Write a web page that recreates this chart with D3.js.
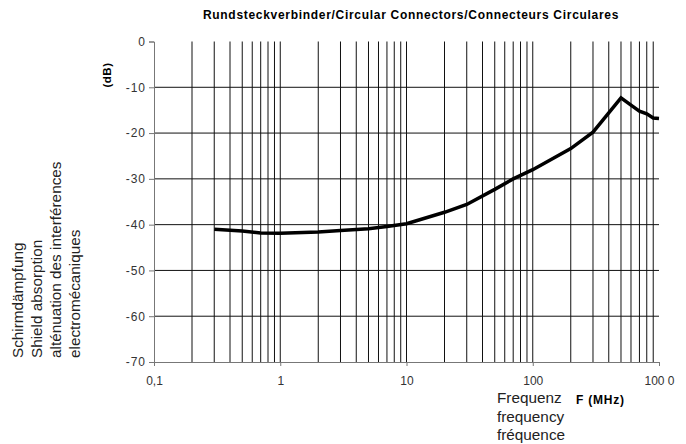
<!DOCTYPE html>
<html><head><meta charset="utf-8">
<script src="https://cdn.jsdelivr.net/npm/d3@7"></script>
<style>body{margin:0;background:#fff}svg{display:block;font-family:"Liberation Sans",Arial,sans-serif}</style>
</head><body>
<svg id="c" width="686" height="444"></svg>
<script>
const freq = [0.3,0.5,0.7,1,2,3,5,7,10,20,30,50,70,100,200,300,400,500,600,700,800,900,1000];
const atten = [-41.0,-41.4,-41.8,-41.9,-41.6,-41.3,-40.9,-40.4,-39.8,-37.3,-35.6,-32.3,-30.0,-28.0,-23.4,-19.8,-15.6,-12.3,-13.9,-15.2,-15.8,-16.7,-16.8];
const xTicks = [0.1,1,10,100,1000];
const xTickLabels = ["0,1","1","10","100","100 0"];
const yTicks = [0,-10,-20,-30,-40,-50,-60,-70];
const yTickLabels = ["0","-10","-20","-30","-40","-50","-60","-70"];
const title = "Rundsteckverbinder/Circular Connectors/Connecteurs Circulares";
const yLabelLines = ["Schirmdämpfung","Shield absorption","alténuation des interférences","electromécaniques"];
const xLabelLines = ["Frequenz","frequency","fréquence"];

const svg = d3.select("#c");
const x = d3.scaleLog().domain([0.1,1000]).range([154,659]);
const y = d3.scaleLinear().domain([-70,0]).range([362,41.5]);

// vertical grid (2..9 of each decade, plus decades 1,10,100)
const vGrid = [];
for (let d of [0.1,1,10,100]) for (let k=1;k<=9;k++){ const v=d*k; if(v>0.1+1e-9 && v<1000-1e-6) vGrid.push(v); }
svg.append("g").selectAll("line").data(vGrid).join("line")
  .attr("x1",d=>x(d)).attr("x2",d=>x(d)).attr("y1",y(0)).attr("y2",y(-70))
  .attr("stroke","#111").attr("stroke-width",1);
// horizontal grid
svg.append("g").selectAll("line").data(yTicks.filter(v=>v!==0 && v!==-70)).join("line")
  .attr("x1",x(0.1)).attr("x2",x(1000)).attr("y1",d=>y(d)).attr("y2",d=>y(d))
  .attr("stroke","#111").attr("stroke-width",1);

// axes
const yAxis = d3.axisLeft(y).tickValues(yTicks).tickSize(5).tickFormat((d,i)=>yTickLabels[i]);
const ga = svg.append("g").attr("transform",`translate(${x(0.1)},0)`).call(yAxis);
ga.select(".domain").attr("stroke","#777");
ga.selectAll(".tick line").attr("stroke","#777");
ga.selectAll(".tick text").attr("font-size",12).attr("fill","#333").attr("letter-spacing","1px").attr("dx",0)
  .attr("font-family","'Liberation Sans',Arial,sans-serif");

const xAxis = d3.axisBottom(x).tickValues(xTicks).tickSize(4).tickFormat((d,i)=>xTickLabels[i]);
const gx = svg.append("g").attr("transform",`translate(0,${y(-70)})`).call(xAxis);
gx.select(".domain").attr("stroke","#777");
gx.selectAll(".tick line").attr("stroke","#777");
gx.selectAll(".tick text").attr("font-size",12).attr("fill","#333").attr("dy","1.3em")
  .attr("font-family","'Liberation Sans',Arial,sans-serif");

// curve
const pts = freq.map((f,i)=>[f,atten[i]]);
svg.append("path").datum(pts)
  .attr("d",d3.line().x(d=>x(d[0])).y(d=>y(d[1])))
  .attr("fill","none").attr("stroke","#000").attr("stroke-width",3.5).attr("stroke-linejoin","miter");

// title
svg.append("text").attr("x",411).attr("y",19).attr("text-anchor","middle")
  .attr("font-size",12).attr("letter-spacing","0.7px").attr("font-weight","bold").attr("fill","#000").text(title);

// (dB)
svg.append("text").attr("transform","translate(111,75) rotate(-90)").attr("text-anchor","middle")
  .attr("font-size",11.5).attr("font-weight","bold").attr("letter-spacing","0.5px").text("(dB)");

// left label lines
const yl = svg.append("text").attr("transform","translate(0,358) rotate(-90)")
  .attr("font-size",15.3).attr("fill","#222");
yLabelLines.forEach((t,i)=>yl.append("tspan").attr("x",0).attr("y",23+i*19).text(t));

// x label lines
const xl = svg.append("text").attr("font-size",15.3).attr("fill","#222");
xLabelLines.forEach((t,i)=>xl.append("tspan").attr("x",497).attr("y",403+i*18.7).text(t));

svg.append("text").attr("x",576).attr("y",404).attr("font-size",12).attr("letter-spacing","0.8px")
  .attr("font-weight","bold").text("F (MHz)");
</script>
</body></html>
